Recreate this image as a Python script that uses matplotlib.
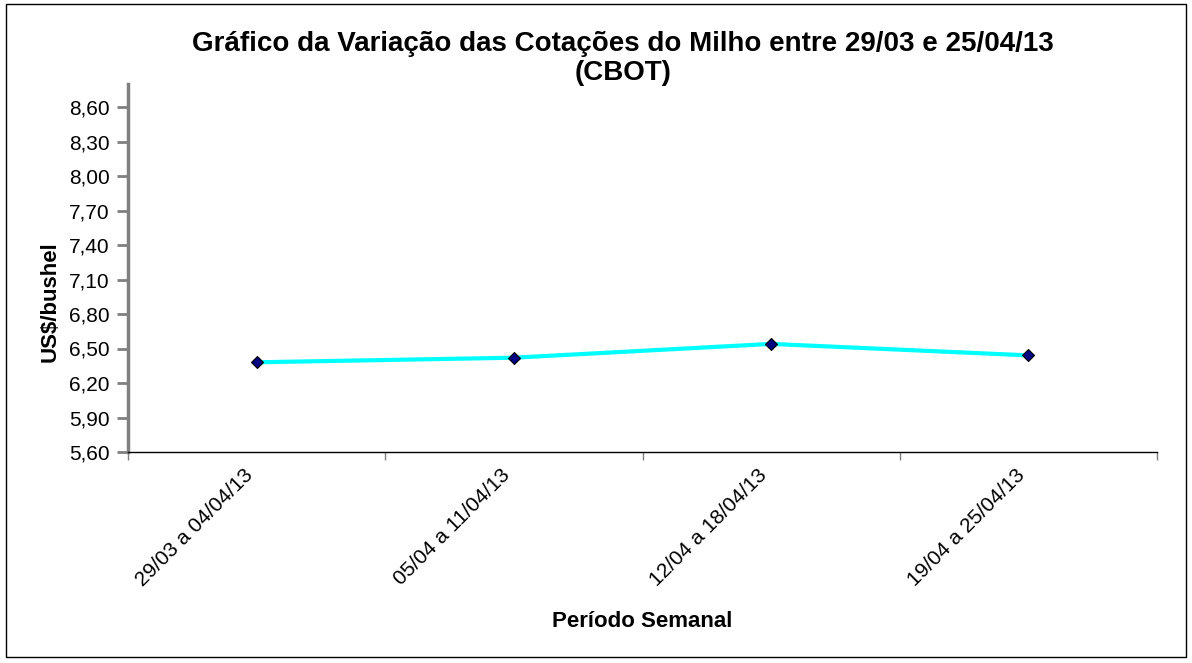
import matplotlib
matplotlib.use("Agg")
import matplotlib.pyplot as plt
from matplotlib.patches import Rectangle
from matplotlib.ticker import FixedLocator, FuncFormatter

periods = ["29/03 a 04/04/13", "05/04 a 11/04/13", "12/04 a 18/04/13", "19/04 a 25/04/13"]
prices = [6.38, 6.42, 6.54, 6.44]
y_ticks = [5.60, 5.90, 6.20, 6.50, 6.80, 7.10, 7.40, 7.70, 8.00, 8.30, 8.60]

plt.rcParams["font.family"] = ["Liberation Sans", "DejaVu Sans"]

fig = plt.figure(figsize=(11.92, 6.63), dpi=100, facecolor="white")
ax = fig.add_axes([128 / 1192, 1 - 452 / 663, (1157 - 128) / 1192, (452 - 84) / 663])

x = list(range(len(periods)))
ax.plot(x, prices, color="#00FFFF", linewidth=3, zorder=2)
ax.plot(x, prices, linestyle="none", marker="D", markersize=6.5,
        markerfacecolor="#000080", markeredgecolor="black", markeredgewidth=0.8, zorder=3)

ax.set_xlim(-0.5, len(periods) - 0.5)
ax.set_ylim(5.60, 8.80)

ax.set_yticks(y_ticks)
ax.yaxis.set_major_formatter(FuncFormatter(lambda v, p: f"{v:.2f}".replace(".", ",")))
ax.tick_params(axis="y", labelsize=15, length=8, width=2, color="#808080", pad=5)

ax.set_xticks(x)
ax.set_xticklabels(periods, rotation=45, ha="right", fontsize=15)
ax.xaxis.set_minor_locator(FixedLocator([i - 0.5 for i in range(len(periods) + 1)]))
ax.tick_params(axis="x", which="major", length=0, pad=10)
ax.tick_params(axis="x", which="minor", length=6, width=1, color="#808080")

for s in ["top", "right"]:
    ax.spines[s].set_visible(False)
ax.spines["left"].set_color("#808080")
ax.spines["left"].set_linewidth(2.5)
ax.spines["bottom"].set_color("black")
ax.spines["bottom"].set_linewidth(1)

# y label sits close to the tick labels, as in the source chart
fig.text(50 / 1192, 1 - 302 / 663, "US$/bushel", rotation=90, ha="center", va="center",
         fontsize=16, fontweight="bold")
ax.set_xlabel("Período Semanal", fontsize=16, fontweight="bold", labelpad=15)

fig.text(623 / 1192, 1 - 44 / 663, "Gráfico da Variação das Cotações do Milho entre 29/03 e 25/04/13",
         ha="center", va="center", fontsize=20, fontweight="bold")
fig.text(623 / 1192, 1 - 73 / 663, "(CBOT)", ha="center", va="center", fontsize=20, fontweight="bold")

fig.patches.append(Rectangle((6 / 1192, 1 - 657 / 663), 1180 / 1192, 653 / 663,
                             transform=fig.transFigure, fill=False, edgecolor="black", linewidth=1))

fig.savefig("out.png", dpi=100, facecolor="white")
